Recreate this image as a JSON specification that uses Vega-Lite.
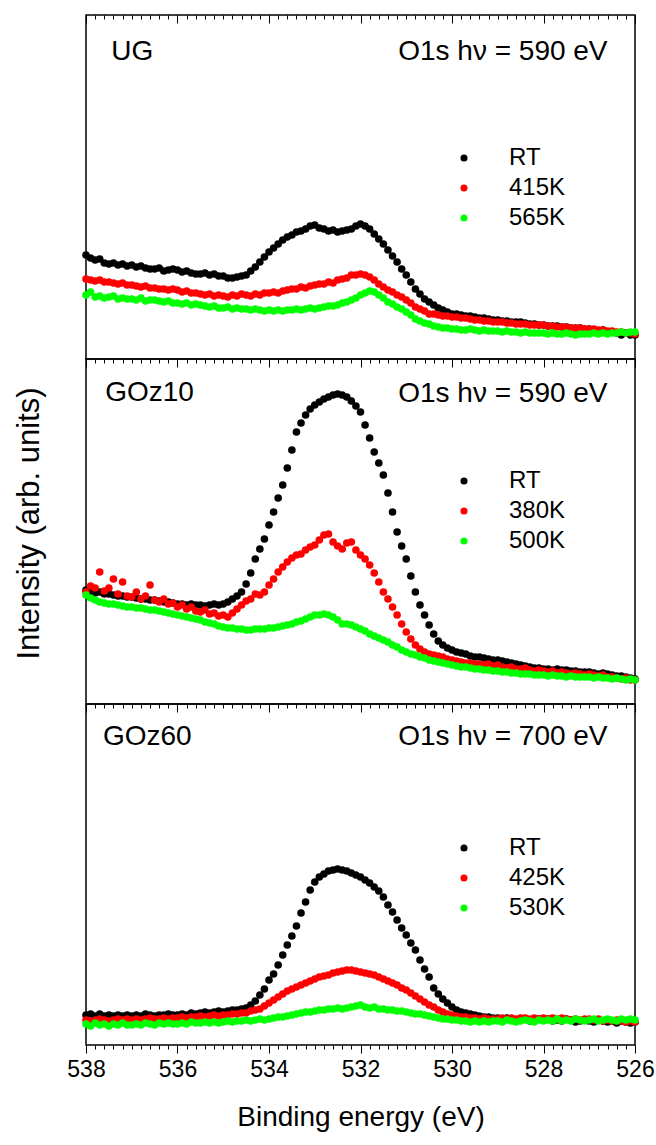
{
"$schema":"https://vega.github.io/schema/vega-lite/v6.json",
"background":"white",
"padding":{"left":12,"top":13,"right":4,"bottom":4},
"spacing":0,
"bounds":"flush",
"datasets":{
"ug":[
{"s":"RT","e":538,"v":104},{"s":"RT","e":537.9,"v":101},{"s":"RT","e":537.8,"v":99},{"s":"RT","e":537.7,"v":100},{"s":"RT","e":537.6,"v":96},{"s":"RT","e":537.5,"v":95},{"s":"RT","e":537.4,"v":96},{"s":"RT","e":537.3,"v":94},{"s":"RT","e":537.2,"v":95},{"s":"RT","e":537.1,"v":93},
{"s":"RT","e":537,"v":94},{"s":"RT","e":536.9,"v":92},{"s":"RT","e":536.8,"v":93},{"s":"RT","e":536.7,"v":91},{"s":"RT","e":536.6,"v":90},{"s":"RT","e":536.5,"v":90},{"s":"RT","e":536.4,"v":91},{"s":"RT","e":536.3,"v":88},{"s":"RT","e":536.2,"v":89},{"s":"RT","e":536.1,"v":90},
{"s":"RT","e":536,"v":89},{"s":"RT","e":535.9,"v":87},{"s":"RT","e":535.8,"v":88},{"s":"RT","e":535.7,"v":86},{"s":"RT","e":535.6,"v":85},{"s":"RT","e":535.5,"v":85},{"s":"RT","e":535.4,"v":86},{"s":"RT","e":535.3,"v":84},{"s":"RT","e":535.2,"v":85},{"s":"RT","e":535.1,"v":83},
{"s":"RT","e":535,"v":83},{"s":"RT","e":534.9,"v":81},{"s":"RT","e":534.8,"v":81},{"s":"RT","e":534.7,"v":82},{"s":"RT","e":534.6,"v":83},{"s":"RT","e":534.5,"v":84},{"s":"RT","e":534.4,"v":88},{"s":"RT","e":534.3,"v":92},{"s":"RT","e":534.2,"v":97},{"s":"RT","e":534.1,"v":102},
{"s":"RT","e":534,"v":107},{"s":"RT","e":533.9,"v":111},{"s":"RT","e":533.8,"v":115},{"s":"RT","e":533.7,"v":119},{"s":"RT","e":533.6,"v":122},{"s":"RT","e":533.5,"v":124},{"s":"RT","e":533.4,"v":127},{"s":"RT","e":533.3,"v":128},{"s":"RT","e":533.2,"v":130},{"s":"RT","e":533.1,"v":133},
{"s":"RT","e":533,"v":134},{"s":"RT","e":532.9,"v":131},{"s":"RT","e":532.8,"v":130},{"s":"RT","e":532.7,"v":128},{"s":"RT","e":532.6,"v":129},{"s":"RT","e":532.5,"v":127},{"s":"RT","e":532.4,"v":128},{"s":"RT","e":532.3,"v":129},{"s":"RT","e":532.2,"v":130},{"s":"RT","e":532.1,"v":133},
{"s":"RT","e":532,"v":135},{"s":"RT","e":531.9,"v":133},{"s":"RT","e":531.8,"v":130},{"s":"RT","e":531.7,"v":125},{"s":"RT","e":531.6,"v":120},{"s":"RT","e":531.5,"v":115},{"s":"RT","e":531.4,"v":109},{"s":"RT","e":531.3,"v":103},{"s":"RT","e":531.2,"v":97},{"s":"RT","e":531.1,"v":90},
{"s":"RT","e":531,"v":84},{"s":"RT","e":530.9,"v":77},{"s":"RT","e":530.8,"v":70},{"s":"RT","e":530.7,"v":65},{"s":"RT","e":530.6,"v":60},{"s":"RT","e":530.5,"v":57},{"s":"RT","e":530.4,"v":54},{"s":"RT","e":530.3,"v":51},{"s":"RT","e":530.2,"v":49},{"s":"RT","e":530.1,"v":47},
{"s":"RT","e":530,"v":45},{"s":"RT","e":529.9,"v":45},{"s":"RT","e":529.8,"v":44},{"s":"RT","e":529.7,"v":43},{"s":"RT","e":529.6,"v":43},{"s":"RT","e":529.5,"v":42},{"s":"RT","e":529.4,"v":41},{"s":"RT","e":529.3,"v":41},{"s":"RT","e":529.2,"v":40},{"s":"RT","e":529.1,"v":39},
{"s":"RT","e":529,"v":39},{"s":"RT","e":528.9,"v":38},{"s":"RT","e":528.8,"v":38},{"s":"RT","e":528.7,"v":37},{"s":"RT","e":528.6,"v":37},{"s":"RT","e":528.5,"v":37},{"s":"RT","e":528.4,"v":36},{"s":"RT","e":528.3,"v":35},{"s":"RT","e":528.2,"v":35},{"s":"RT","e":528.1,"v":34},
{"s":"RT","e":528,"v":34},{"s":"RT","e":527.9,"v":33},{"s":"RT","e":527.8,"v":33},{"s":"RT","e":527.7,"v":33},{"s":"RT","e":527.6,"v":32},{"s":"RT","e":527.5,"v":32},{"s":"RT","e":527.4,"v":31},{"s":"RT","e":527.3,"v":31},{"s":"RT","e":527.2,"v":31},{"s":"RT","e":527.1,"v":30},
{"s":"RT","e":527,"v":30},{"s":"RT","e":526.9,"v":29},{"s":"RT","e":526.8,"v":28},{"s":"RT","e":526.7,"v":29},{"s":"RT","e":526.6,"v":27},{"s":"RT","e":526.5,"v":27},{"s":"RT","e":526.4,"v":26},{"s":"RT","e":526.3,"v":24},{"s":"RT","e":526.2,"v":26},{"s":"RT","e":526.1,"v":24},
{"s":"RT","e":526,"v":24},
{"s":"415K","e":538,"v":80},{"s":"415K","e":537.9,"v":79},{"s":"415K","e":537.8,"v":78},{"s":"415K","e":537.7,"v":79},{"s":"415K","e":537.6,"v":77},{"s":"415K","e":537.5,"v":77},{"s":"415K","e":537.4,"v":76},{"s":"415K","e":537.3,"v":75},{"s":"415K","e":537.2,"v":76},{"s":"415K","e":537.1,"v":74},
{"s":"415K","e":537,"v":74},{"s":"415K","e":536.9,"v":73},{"s":"415K","e":536.8,"v":72},{"s":"415K","e":536.7,"v":73},{"s":"415K","e":536.6,"v":71},{"s":"415K","e":536.5,"v":71},{"s":"415K","e":536.4,"v":70},{"s":"415K","e":536.3,"v":70},{"s":"415K","e":536.2,"v":69},{"s":"415K","e":536.1,"v":70},
{"s":"415K","e":536,"v":69},{"s":"415K","e":535.9,"v":67},{"s":"415K","e":535.8,"v":68},{"s":"415K","e":535.7,"v":66},{"s":"415K","e":535.6,"v":66},{"s":"415K","e":535.5,"v":65},{"s":"415K","e":535.4,"v":64},{"s":"415K","e":535.3,"v":65},{"s":"415K","e":535.2,"v":63},{"s":"415K","e":535.1,"v":64},
{"s":"415K","e":535,"v":63},{"s":"415K","e":534.9,"v":62},{"s":"415K","e":534.8,"v":64},{"s":"415K","e":534.7,"v":63},{"s":"415K","e":534.6,"v":65},{"s":"415K","e":534.5,"v":64},{"s":"415K","e":534.4,"v":63},{"s":"415K","e":534.3,"v":65},{"s":"415K","e":534.2,"v":64},{"s":"415K","e":534.1,"v":66},
{"s":"415K","e":534,"v":66},{"s":"415K","e":533.9,"v":67},{"s":"415K","e":533.8,"v":66},{"s":"415K","e":533.7,"v":68},{"s":"415K","e":533.6,"v":69},{"s":"415K","e":533.5,"v":70},{"s":"415K","e":533.4,"v":70},{"s":"415K","e":533.3,"v":72},{"s":"415K","e":533.2,"v":71},{"s":"415K","e":533.1,"v":73},
{"s":"415K","e":533,"v":74},{"s":"415K","e":532.9,"v":75},{"s":"415K","e":532.8,"v":75},{"s":"415K","e":532.7,"v":77},{"s":"415K","e":532.6,"v":76},{"s":"415K","e":532.5,"v":79},{"s":"415K","e":532.4,"v":80},{"s":"415K","e":532.3,"v":81},{"s":"415K","e":532.2,"v":84},{"s":"415K","e":532.1,"v":84},
{"s":"415K","e":532,"v":85},{"s":"415K","e":531.9,"v":84},{"s":"415K","e":531.8,"v":82},{"s":"415K","e":531.7,"v":79},{"s":"415K","e":531.6,"v":75},{"s":"415K","e":531.5,"v":72},{"s":"415K","e":531.4,"v":69},{"s":"415K","e":531.3,"v":67},{"s":"415K","e":531.2,"v":64},{"s":"415K","e":531.1,"v":62},
{"s":"415K","e":531,"v":59},{"s":"415K","e":530.9,"v":56},{"s":"415K","e":530.8,"v":52},{"s":"415K","e":530.7,"v":50},{"s":"415K","e":530.6,"v":48},{"s":"415K","e":530.5,"v":45},{"s":"415K","e":530.4,"v":45},{"s":"415K","e":530.3,"v":44},{"s":"415K","e":530.2,"v":43},{"s":"415K","e":530.1,"v":43},
{"s":"415K","e":530,"v":42},{"s":"415K","e":529.9,"v":42},{"s":"415K","e":529.8,"v":41},{"s":"415K","e":529.7,"v":41},{"s":"415K","e":529.6,"v":40},{"s":"415K","e":529.5,"v":39},{"s":"415K","e":529.4,"v":39},{"s":"415K","e":529.3,"v":38},{"s":"415K","e":529.2,"v":38},{"s":"415K","e":529.1,"v":37},
{"s":"415K","e":529,"v":37},{"s":"415K","e":528.9,"v":37},{"s":"415K","e":528.8,"v":36},{"s":"415K","e":528.7,"v":36},{"s":"415K","e":528.6,"v":35},{"s":"415K","e":528.5,"v":35},{"s":"415K","e":528.4,"v":35},{"s":"415K","e":528.3,"v":34},{"s":"415K","e":528.2,"v":34},{"s":"415K","e":528.1,"v":34},
{"s":"415K","e":528,"v":34},{"s":"415K","e":527.9,"v":33},{"s":"415K","e":527.8,"v":33},{"s":"415K","e":527.7,"v":32},{"s":"415K","e":527.6,"v":32},{"s":"415K","e":527.5,"v":32},{"s":"415K","e":527.4,"v":31},{"s":"415K","e":527.3,"v":31},{"s":"415K","e":527.2,"v":31},{"s":"415K","e":527.1,"v":30},
{"s":"415K","e":527,"v":30},{"s":"415K","e":526.9,"v":30},{"s":"415K","e":526.8,"v":29},{"s":"415K","e":526.7,"v":29},{"s":"415K","e":526.6,"v":28},{"s":"415K","e":526.5,"v":28},{"s":"415K","e":526.4,"v":27},{"s":"415K","e":526.3,"v":27},{"s":"415K","e":526.2,"v":26},{"s":"415K","e":526.1,"v":26},
{"s":"415K","e":526,"v":25},
{"s":"565K","e":538,"v":64},{"s":"565K","e":537.9,"v":67},{"s":"565K","e":537.8,"v":62},{"s":"565K","e":537.7,"v":63},{"s":"565K","e":537.6,"v":61},{"s":"565K","e":537.5,"v":62},{"s":"565K","e":537.4,"v":63},{"s":"565K","e":537.3,"v":60},{"s":"565K","e":537.2,"v":61},{"s":"565K","e":537.1,"v":60},
{"s":"565K","e":537,"v":60},{"s":"565K","e":536.9,"v":59},{"s":"565K","e":536.8,"v":61},{"s":"565K","e":536.7,"v":58},{"s":"565K","e":536.6,"v":59},{"s":"565K","e":536.5,"v":59},{"s":"565K","e":536.4,"v":58},{"s":"565K","e":536.3,"v":57},{"s":"565K","e":536.2,"v":58},{"s":"565K","e":536.1,"v":56},
{"s":"565K","e":536,"v":56},{"s":"565K","e":535.9,"v":55},{"s":"565K","e":535.8,"v":56},{"s":"565K","e":535.7,"v":54},{"s":"565K","e":535.6,"v":55},{"s":"565K","e":535.5,"v":54},{"s":"565K","e":535.4,"v":53},{"s":"565K","e":535.3,"v":52},{"s":"565K","e":535.2,"v":53},{"s":"565K","e":535.1,"v":51},
{"s":"565K","e":535,"v":51},{"s":"565K","e":534.9,"v":52},{"s":"565K","e":534.8,"v":50},{"s":"565K","e":534.7,"v":51},{"s":"565K","e":534.6,"v":50},{"s":"565K","e":534.5,"v":50},{"s":"565K","e":534.4,"v":49},{"s":"565K","e":534.3,"v":50},{"s":"565K","e":534.2,"v":49},{"s":"565K","e":534.1,"v":48},
{"s":"565K","e":534,"v":49},{"s":"565K","e":533.9,"v":48},{"s":"565K","e":533.8,"v":49},{"s":"565K","e":533.7,"v":48},{"s":"565K","e":533.6,"v":49},{"s":"565K","e":533.5,"v":49},{"s":"565K","e":533.4,"v":50},{"s":"565K","e":533.3,"v":49},{"s":"565K","e":533.2,"v":50},{"s":"565K","e":533.1,"v":51},
{"s":"565K","e":533,"v":50},{"s":"565K","e":532.9,"v":51},{"s":"565K","e":532.8,"v":52},{"s":"565K","e":532.7,"v":53},{"s":"565K","e":532.6,"v":53},{"s":"565K","e":532.5,"v":54},{"s":"565K","e":532.4,"v":56},{"s":"565K","e":532.3,"v":57},{"s":"565K","e":532.2,"v":59},{"s":"565K","e":532.1,"v":61},
{"s":"565K","e":532,"v":64},{"s":"565K","e":531.9,"v":66},{"s":"565K","e":531.8,"v":68},{"s":"565K","e":531.7,"v":67},{"s":"565K","e":531.6,"v":64},{"s":"565K","e":531.5,"v":61},{"s":"565K","e":531.4,"v":57},{"s":"565K","e":531.3,"v":55},{"s":"565K","e":531.2,"v":52},{"s":"565K","e":531.1,"v":50},
{"s":"565K","e":531,"v":47},{"s":"565K","e":530.9,"v":44},{"s":"565K","e":530.8,"v":40},{"s":"565K","e":530.7,"v":38},{"s":"565K","e":530.6,"v":36},{"s":"565K","e":530.5,"v":35},{"s":"565K","e":530.4,"v":33},{"s":"565K","e":530.3,"v":32},{"s":"565K","e":530.2,"v":31},{"s":"565K","e":530.1,"v":31},
{"s":"565K","e":530,"v":30},{"s":"565K","e":529.9,"v":30},{"s":"565K","e":529.8,"v":29},{"s":"565K","e":529.7,"v":29},{"s":"565K","e":529.6,"v":30},{"s":"565K","e":529.5,"v":29},{"s":"565K","e":529.4,"v":28},{"s":"565K","e":529.3,"v":29},{"s":"565K","e":529.2,"v":28},{"s":"565K","e":529.1,"v":28},
{"s":"565K","e":529,"v":28},{"s":"565K","e":528.9,"v":27},{"s":"565K","e":528.8,"v":28},{"s":"565K","e":528.7,"v":27},{"s":"565K","e":528.6,"v":27},{"s":"565K","e":528.5,"v":26},{"s":"565K","e":528.4,"v":27},{"s":"565K","e":528.3,"v":26},{"s":"565K","e":528.2,"v":26},{"s":"565K","e":528.1,"v":26},
{"s":"565K","e":528,"v":26},{"s":"565K","e":527.9,"v":25},{"s":"565K","e":527.8,"v":26},{"s":"565K","e":527.7,"v":25},{"s":"565K","e":527.6,"v":25},{"s":"565K","e":527.5,"v":26},{"s":"565K","e":527.4,"v":25},{"s":"565K","e":527.3,"v":24},{"s":"565K","e":527.2,"v":25},{"s":"565K","e":527.1,"v":25},
{"s":"565K","e":527,"v":25},{"s":"565K","e":526.9,"v":26},{"s":"565K","e":526.8,"v":25},{"s":"565K","e":526.7,"v":26},{"s":"565K","e":526.6,"v":25},{"s":"565K","e":526.5,"v":26},{"s":"565K","e":526.4,"v":26},{"s":"565K","e":526.3,"v":27},{"s":"565K","e":526.2,"v":26},{"s":"565K","e":526.1,"v":27},
{"s":"565K","e":526,"v":27}
],
"goz10":[
{"s":"RT","e":538,"v":114},{"s":"RT","e":537.9,"v":112},{"s":"RT","e":537.8,"v":111},{"s":"RT","e":537.7,"v":112},{"s":"RT","e":537.6,"v":110},{"s":"RT","e":537.5,"v":110},{"s":"RT","e":537.4,"v":109},{"s":"RT","e":537.3,"v":108},{"s":"RT","e":537.2,"v":108},{"s":"RT","e":537.1,"v":107},
{"s":"RT","e":537,"v":107},{"s":"RT","e":536.9,"v":106},{"s":"RT","e":536.8,"v":105},{"s":"RT","e":536.7,"v":105},{"s":"RT","e":536.6,"v":104},{"s":"RT","e":536.5,"v":104},{"s":"RT","e":536.4,"v":103},{"s":"RT","e":536.3,"v":102},{"s":"RT","e":536.2,"v":102},{"s":"RT","e":536.1,"v":101},
{"s":"RT","e":536,"v":100},{"s":"RT","e":535.9,"v":100},{"s":"RT","e":535.8,"v":99},{"s":"RT","e":535.7,"v":100},{"s":"RT","e":535.6,"v":99},{"s":"RT","e":535.5,"v":99},{"s":"RT","e":535.4,"v":98},{"s":"RT","e":535.3,"v":99},{"s":"RT","e":535.2,"v":100},{"s":"RT","e":535.1,"v":99},
{"s":"RT","e":535,"v":100},{"s":"RT","e":534.9,"v":102},{"s":"RT","e":534.8,"v":105},{"s":"RT","e":534.7,"v":108},{"s":"RT","e":534.6,"v":112},{"s":"RT","e":534.5,"v":120},{"s":"RT","e":534.4,"v":131},{"s":"RT","e":534.3,"v":145},{"s":"RT","e":534.2,"v":155},{"s":"RT","e":534.1,"v":165},
{"s":"RT","e":534,"v":179},{"s":"RT","e":533.9,"v":192},{"s":"RT","e":533.8,"v":206},{"s":"RT","e":533.7,"v":219},{"s":"RT","e":533.6,"v":236},{"s":"RT","e":533.5,"v":254},{"s":"RT","e":533.4,"v":272},{"s":"RT","e":533.3,"v":281},{"s":"RT","e":533.2,"v":289},{"s":"RT","e":533.1,"v":295},
{"s":"RT","e":533,"v":299},{"s":"RT","e":532.9,"v":302},{"s":"RT","e":532.8,"v":305},{"s":"RT","e":532.7,"v":307},{"s":"RT","e":532.6,"v":309},{"s":"RT","e":532.5,"v":310},{"s":"RT","e":532.4,"v":309},{"s":"RT","e":532.3,"v":307},{"s":"RT","e":532.2,"v":303},{"s":"RT","e":532.1,"v":298},
{"s":"RT","e":532,"v":292},{"s":"RT","e":531.9,"v":279},{"s":"RT","e":531.8,"v":266},{"s":"RT","e":531.7,"v":252},{"s":"RT","e":531.6,"v":241},{"s":"RT","e":531.5,"v":229},{"s":"RT","e":531.4,"v":211},{"s":"RT","e":531.3,"v":192},{"s":"RT","e":531.2,"v":172},{"s":"RT","e":531.1,"v":158},
{"s":"RT","e":531,"v":145},{"s":"RT","e":530.9,"v":128},{"s":"RT","e":530.8,"v":112},{"s":"RT","e":530.7,"v":99},{"s":"RT","e":530.6,"v":89},{"s":"RT","e":530.5,"v":79},{"s":"RT","e":530.4,"v":70},{"s":"RT","e":530.3,"v":63},{"s":"RT","e":530.2,"v":59},{"s":"RT","e":530.1,"v":56},
{"s":"RT","e":530,"v":54},{"s":"RT","e":529.9,"v":52},{"s":"RT","e":529.8,"v":51},{"s":"RT","e":529.7,"v":50},{"s":"RT","e":529.6,"v":48},{"s":"RT","e":529.5,"v":47},{"s":"RT","e":529.4,"v":47},{"s":"RT","e":529.3,"v":46},{"s":"RT","e":529.2,"v":45},{"s":"RT","e":529.1,"v":44},
{"s":"RT","e":529,"v":44},{"s":"RT","e":528.9,"v":43},{"s":"RT","e":528.8,"v":42},{"s":"RT","e":528.7,"v":41},{"s":"RT","e":528.6,"v":40},{"s":"RT","e":528.5,"v":39},{"s":"RT","e":528.4,"v":38},{"s":"RT","e":528.3,"v":37},{"s":"RT","e":528.2,"v":36},{"s":"RT","e":528.1,"v":36},
{"s":"RT","e":528,"v":35},{"s":"RT","e":527.9,"v":35},{"s":"RT","e":527.8,"v":34},{"s":"RT","e":527.7,"v":35},{"s":"RT","e":527.6,"v":34},{"s":"RT","e":527.5,"v":34},{"s":"RT","e":527.4,"v":33},{"s":"RT","e":527.3,"v":33},{"s":"RT","e":527.2,"v":32},{"s":"RT","e":527.1,"v":32},
{"s":"RT","e":527,"v":32},{"s":"RT","e":526.9,"v":31},{"s":"RT","e":526.8,"v":30},{"s":"RT","e":526.7,"v":31},{"s":"RT","e":526.6,"v":30},{"s":"RT","e":526.5,"v":29},{"s":"RT","e":526.4,"v":28},{"s":"RT","e":526.3,"v":28},{"s":"RT","e":526.2,"v":27},{"s":"RT","e":526.1,"v":26},
{"s":"RT","e":526,"v":25},
{"s":"380K","e":538,"v":112},{"s":"380K","e":537.9,"v":118},{"s":"380K","e":537.8,"v":116},{"s":"380K","e":537.7,"v":132},{"s":"380K","e":537.6,"v":113},{"s":"380K","e":537.5,"v":116},{"s":"380K","e":537.4,"v":125},{"s":"380K","e":537.3,"v":110},{"s":"380K","e":537.2,"v":122},{"s":"380K","e":537.1,"v":108},
{"s":"380K","e":537,"v":107},{"s":"380K","e":536.9,"v":112},{"s":"380K","e":536.8,"v":105},{"s":"380K","e":536.7,"v":108},{"s":"380K","e":536.6,"v":119},{"s":"380K","e":536.5,"v":104},{"s":"380K","e":536.4,"v":102},{"s":"380K","e":536.3,"v":105},{"s":"380K","e":536.2,"v":100},{"s":"380K","e":536.1,"v":101},
{"s":"380K","e":536,"v":97},{"s":"380K","e":535.9,"v":99},{"s":"380K","e":535.8,"v":95},{"s":"380K","e":535.7,"v":97},{"s":"380K","e":535.6,"v":93},{"s":"380K","e":535.5,"v":92},{"s":"380K","e":535.4,"v":94},{"s":"380K","e":535.3,"v":90},{"s":"380K","e":535.2,"v":91},{"s":"380K","e":535.1,"v":88},
{"s":"380K","e":535,"v":89},{"s":"380K","e":534.9,"v":87},{"s":"380K","e":534.8,"v":91},{"s":"380K","e":534.7,"v":95},{"s":"380K","e":534.6,"v":99},{"s":"380K","e":534.5,"v":103},{"s":"380K","e":534.4,"v":105},{"s":"380K","e":534.3,"v":110},{"s":"380K","e":534.2,"v":109},{"s":"380K","e":534.1,"v":112},
{"s":"380K","e":534,"v":119},{"s":"380K","e":533.9,"v":125},{"s":"380K","e":533.8,"v":132},{"s":"380K","e":533.7,"v":137},{"s":"380K","e":533.6,"v":142},{"s":"380K","e":533.5,"v":146},{"s":"380K","e":533.4,"v":149},{"s":"380K","e":533.3,"v":150},{"s":"380K","e":533.2,"v":154},{"s":"380K","e":533.1,"v":157},
{"s":"380K","e":533,"v":159},{"s":"380K","e":532.9,"v":164},{"s":"380K","e":532.8,"v":169},{"s":"380K","e":532.7,"v":170},{"s":"380K","e":532.6,"v":162},{"s":"380K","e":532.5,"v":158},{"s":"380K","e":532.4,"v":155},{"s":"380K","e":532.3,"v":161},{"s":"380K","e":532.2,"v":162},{"s":"380K","e":532.1,"v":154},
{"s":"380K","e":532,"v":149},{"s":"380K","e":531.9,"v":145},{"s":"380K","e":531.8,"v":139},{"s":"380K","e":531.7,"v":131},{"s":"380K","e":531.6,"v":122},{"s":"380K","e":531.5,"v":112},{"s":"380K","e":531.4,"v":105},{"s":"380K","e":531.3,"v":97},{"s":"380K","e":531.2,"v":89},{"s":"380K","e":531.1,"v":80},
{"s":"380K","e":531,"v":72},{"s":"380K","e":530.9,"v":65},{"s":"380K","e":530.8,"v":59},{"s":"380K","e":530.7,"v":55},{"s":"380K","e":530.6,"v":52},{"s":"380K","e":530.5,"v":50},{"s":"380K","e":530.4,"v":49},{"s":"380K","e":530.3,"v":48},{"s":"380K","e":530.2,"v":47},{"s":"380K","e":530.1,"v":45},
{"s":"380K","e":530,"v":44},{"s":"380K","e":529.9,"v":43},{"s":"380K","e":529.8,"v":42},{"s":"380K","e":529.7,"v":41},{"s":"380K","e":529.6,"v":41},{"s":"380K","e":529.5,"v":40},{"s":"380K","e":529.4,"v":40},{"s":"380K","e":529.3,"v":39},{"s":"380K","e":529.2,"v":40},{"s":"380K","e":529.1,"v":38},
{"s":"380K","e":529,"v":39},{"s":"380K","e":528.9,"v":37},{"s":"380K","e":528.8,"v":36},{"s":"380K","e":528.7,"v":37},{"s":"380K","e":528.6,"v":35},{"s":"380K","e":528.5,"v":35},{"s":"380K","e":528.4,"v":36},{"s":"380K","e":528.3,"v":34},{"s":"380K","e":528.2,"v":33},{"s":"380K","e":528.1,"v":34},
{"s":"380K","e":528,"v":33},{"s":"380K","e":527.9,"v":32},{"s":"380K","e":527.8,"v":33},{"s":"380K","e":527.7,"v":31},{"s":"380K","e":527.6,"v":32},{"s":"380K","e":527.5,"v":31},{"s":"380K","e":527.4,"v":30},{"s":"380K","e":527.3,"v":31},{"s":"380K","e":527.2,"v":30},{"s":"380K","e":527.1,"v":29},
{"s":"380K","e":527,"v":30},{"s":"380K","e":526.9,"v":29},{"s":"380K","e":526.8,"v":28},{"s":"380K","e":526.7,"v":29},{"s":"380K","e":526.6,"v":27},{"s":"380K","e":526.5,"v":27},{"s":"380K","e":526.4,"v":26},{"s":"380K","e":526.3,"v":25},{"s":"380K","e":526.2,"v":26},{"s":"380K","e":526.1,"v":24},
{"s":"380K","e":526,"v":24},
{"s":"500K","e":538,"v":109},{"s":"500K","e":537.9,"v":106},{"s":"500K","e":537.8,"v":104},{"s":"500K","e":537.7,"v":102},{"s":"500K","e":537.6,"v":101},{"s":"500K","e":537.5,"v":100},{"s":"500K","e":537.4,"v":100},{"s":"500K","e":537.3,"v":99},{"s":"500K","e":537.2,"v":98},{"s":"500K","e":537.1,"v":97},
{"s":"500K","e":537,"v":97},{"s":"500K","e":536.9,"v":96},{"s":"500K","e":536.8,"v":96},{"s":"500K","e":536.7,"v":95},{"s":"500K","e":536.6,"v":94},{"s":"500K","e":536.5,"v":94},{"s":"500K","e":536.4,"v":93},{"s":"500K","e":536.3,"v":92},{"s":"500K","e":536.2,"v":91},{"s":"500K","e":536.1,"v":90},
{"s":"500K","e":536,"v":89},{"s":"500K","e":535.9,"v":88},{"s":"500K","e":535.8,"v":87},{"s":"500K","e":535.7,"v":86},{"s":"500K","e":535.6,"v":85},{"s":"500K","e":535.5,"v":84},{"s":"500K","e":535.4,"v":82},{"s":"500K","e":535.3,"v":81},{"s":"500K","e":535.2,"v":80},{"s":"500K","e":535.1,"v":78},
{"s":"500K","e":535,"v":77},{"s":"500K","e":534.9,"v":76},{"s":"500K","e":534.8,"v":76},{"s":"500K","e":534.7,"v":75},{"s":"500K","e":534.6,"v":75},{"s":"500K","e":534.5,"v":74},{"s":"500K","e":534.4,"v":74},{"s":"500K","e":534.3,"v":75},{"s":"500K","e":534.2,"v":75},{"s":"500K","e":534.1,"v":75},
{"s":"500K","e":534,"v":76},{"s":"500K","e":533.9,"v":76},{"s":"500K","e":533.8,"v":77},{"s":"500K","e":533.7,"v":78},{"s":"500K","e":533.6,"v":79},{"s":"500K","e":533.5,"v":80},{"s":"500K","e":533.4,"v":82},{"s":"500K","e":533.3,"v":83},{"s":"500K","e":533.2,"v":85},{"s":"500K","e":533.1,"v":87},
{"s":"500K","e":533,"v":89},{"s":"500K","e":532.9,"v":89},{"s":"500K","e":532.8,"v":90},{"s":"500K","e":532.7,"v":89},{"s":"500K","e":532.6,"v":87},{"s":"500K","e":532.5,"v":84},{"s":"500K","e":532.4,"v":80},{"s":"500K","e":532.3,"v":80},{"s":"500K","e":532.2,"v":79},{"s":"500K","e":532.1,"v":77},
{"s":"500K","e":532,"v":75},{"s":"500K","e":531.9,"v":73},{"s":"500K","e":531.8,"v":70},{"s":"500K","e":531.7,"v":68},{"s":"500K","e":531.6,"v":66},{"s":"500K","e":531.5,"v":64},{"s":"500K","e":531.4,"v":62},{"s":"500K","e":531.3,"v":59},{"s":"500K","e":531.2,"v":57},{"s":"500K","e":531.1,"v":54},
{"s":"500K","e":531,"v":52},{"s":"500K","e":530.9,"v":50},{"s":"500K","e":530.8,"v":49},{"s":"500K","e":530.7,"v":47},{"s":"500K","e":530.6,"v":46},{"s":"500K","e":530.5,"v":44},{"s":"500K","e":530.4,"v":43},{"s":"500K","e":530.3,"v":42},{"s":"500K","e":530.2,"v":41},{"s":"500K","e":530.1,"v":40},
{"s":"500K","e":530,"v":39},{"s":"500K","e":529.9,"v":38},{"s":"500K","e":529.8,"v":37},{"s":"500K","e":529.7,"v":37},{"s":"500K","e":529.6,"v":36},{"s":"500K","e":529.5,"v":35},{"s":"500K","e":529.4,"v":35},{"s":"500K","e":529.3,"v":34},{"s":"500K","e":529.2,"v":34},{"s":"500K","e":529.1,"v":33},
{"s":"500K","e":529,"v":33},{"s":"500K","e":528.9,"v":32},{"s":"500K","e":528.8,"v":32},{"s":"500K","e":528.7,"v":31},{"s":"500K","e":528.6,"v":31},{"s":"500K","e":528.5,"v":30},{"s":"500K","e":528.4,"v":30},{"s":"500K","e":528.3,"v":30},{"s":"500K","e":528.2,"v":29},{"s":"500K","e":528.1,"v":29},
{"s":"500K","e":528,"v":29},{"s":"500K","e":527.9,"v":28},{"s":"500K","e":527.8,"v":29},{"s":"500K","e":527.7,"v":28},{"s":"500K","e":527.6,"v":28},{"s":"500K","e":527.5,"v":27},{"s":"500K","e":527.4,"v":28},{"s":"500K","e":527.3,"v":27},{"s":"500K","e":527.2,"v":27},{"s":"500K","e":527.1,"v":27},
{"s":"500K","e":527,"v":27},{"s":"500K","e":526.9,"v":26},{"s":"500K","e":526.8,"v":27},{"s":"500K","e":526.7,"v":26},{"s":"500K","e":526.6,"v":26},{"s":"500K","e":526.5,"v":25},{"s":"500K","e":526.4,"v":26},{"s":"500K","e":526.3,"v":25},{"s":"500K","e":526.2,"v":24},{"s":"500K","e":526.1,"v":25},
{"s":"500K","e":526,"v":24}
],
"goz60":[
{"s":"RT","e":538,"v":30},{"s":"RT","e":537.9,"v":31},{"s":"RT","e":537.8,"v":29},{"s":"RT","e":537.7,"v":31},{"s":"RT","e":537.6,"v":29},{"s":"RT","e":537.5,"v":30},{"s":"RT","e":537.4,"v":29},{"s":"RT","e":537.3,"v":30},{"s":"RT","e":537.2,"v":29},{"s":"RT","e":537.1,"v":30},
{"s":"RT","e":537,"v":29},{"s":"RT","e":536.9,"v":30},{"s":"RT","e":536.8,"v":29},{"s":"RT","e":536.7,"v":31},{"s":"RT","e":536.6,"v":30},{"s":"RT","e":536.5,"v":29},{"s":"RT","e":536.4,"v":30},{"s":"RT","e":536.3,"v":30},{"s":"RT","e":536.2,"v":31},{"s":"RT","e":536.1,"v":30},
{"s":"RT","e":536,"v":30},{"s":"RT","e":535.9,"v":31},{"s":"RT","e":535.8,"v":30},{"s":"RT","e":535.7,"v":32},{"s":"RT","e":535.6,"v":31},{"s":"RT","e":535.5,"v":32},{"s":"RT","e":535.4,"v":33},{"s":"RT","e":535.3,"v":32},{"s":"RT","e":535.2,"v":33},{"s":"RT","e":535.1,"v":34},
{"s":"RT","e":535,"v":33},{"s":"RT","e":534.9,"v":34},{"s":"RT","e":534.8,"v":35},{"s":"RT","e":534.7,"v":35},{"s":"RT","e":534.6,"v":36},{"s":"RT","e":534.5,"v":37},{"s":"RT","e":534.4,"v":40},{"s":"RT","e":534.3,"v":44},{"s":"RT","e":534.2,"v":50},{"s":"RT","e":534.1,"v":56},
{"s":"RT","e":534,"v":65},{"s":"RT","e":533.9,"v":71},{"s":"RT","e":533.8,"v":80},{"s":"RT","e":533.7,"v":90},{"s":"RT","e":533.6,"v":100},{"s":"RT","e":533.5,"v":109},{"s":"RT","e":533.4,"v":119},{"s":"RT","e":533.3,"v":132},{"s":"RT","e":533.2,"v":143},{"s":"RT","e":533.1,"v":155},
{"s":"RT","e":533,"v":163},{"s":"RT","e":532.9,"v":168},{"s":"RT","e":532.8,"v":171},{"s":"RT","e":532.7,"v":174},{"s":"RT","e":532.6,"v":175},{"s":"RT","e":532.5,"v":176},{"s":"RT","e":532.4,"v":175},{"s":"RT","e":532.3,"v":174},{"s":"RT","e":532.2,"v":172},{"s":"RT","e":532.1,"v":170},
{"s":"RT","e":532,"v":168},{"s":"RT","e":531.9,"v":165},{"s":"RT","e":531.8,"v":162},{"s":"RT","e":531.7,"v":158},{"s":"RT","e":531.6,"v":154},{"s":"RT","e":531.5,"v":148},{"s":"RT","e":531.4,"v":140},{"s":"RT","e":531.3,"v":133},{"s":"RT","e":531.2,"v":125},{"s":"RT","e":531.1,"v":117},
{"s":"RT","e":531,"v":110},{"s":"RT","e":530.9,"v":102},{"s":"RT","e":530.8,"v":95},{"s":"RT","e":530.7,"v":85},{"s":"RT","e":530.6,"v":76},{"s":"RT","e":530.5,"v":68},{"s":"RT","e":530.4,"v":57},{"s":"RT","e":530.3,"v":51},{"s":"RT","e":530.2,"v":46},{"s":"RT","e":530.1,"v":42},
{"s":"RT","e":530,"v":38},{"s":"RT","e":529.9,"v":35},{"s":"RT","e":529.8,"v":33},{"s":"RT","e":529.7,"v":32},{"s":"RT","e":529.6,"v":31},{"s":"RT","e":529.5,"v":30},{"s":"RT","e":529.4,"v":29},{"s":"RT","e":529.3,"v":28},{"s":"RT","e":529.2,"v":28},{"s":"RT","e":529.1,"v":27},
{"s":"RT","e":529,"v":27},{"s":"RT","e":528.9,"v":26},{"s":"RT","e":528.8,"v":27},{"s":"RT","e":528.7,"v":26},{"s":"RT","e":528.6,"v":25},{"s":"RT","e":528.5,"v":26},{"s":"RT","e":528.4,"v":26},{"s":"RT","e":528.3,"v":24},{"s":"RT","e":528.2,"v":25},{"s":"RT","e":528.1,"v":26},
{"s":"RT","e":528,"v":25},{"s":"RT","e":527.9,"v":26},{"s":"RT","e":527.8,"v":24},{"s":"RT","e":527.7,"v":25},{"s":"RT","e":527.6,"v":24},{"s":"RT","e":527.5,"v":26},{"s":"RT","e":527.4,"v":25},{"s":"RT","e":527.3,"v":23},{"s":"RT","e":527.2,"v":24},{"s":"RT","e":527.1,"v":25},
{"s":"RT","e":527,"v":24},{"s":"RT","e":526.9,"v":23},{"s":"RT","e":526.8,"v":25},{"s":"RT","e":526.7,"v":24},{"s":"RT","e":526.6,"v":23},{"s":"RT","e":526.5,"v":24},{"s":"RT","e":526.4,"v":22},{"s":"RT","e":526.3,"v":24},{"s":"RT","e":526.2,"v":23},{"s":"RT","e":526.1,"v":22},
{"s":"RT","e":526,"v":23},
{"s":"425K","e":538,"v":25},{"s":"425K","e":537.9,"v":24},{"s":"425K","e":537.8,"v":25},{"s":"425K","e":537.7,"v":26},{"s":"425K","e":537.6,"v":25},{"s":"425K","e":537.5,"v":24},{"s":"425K","e":537.4,"v":25},{"s":"425K","e":537.3,"v":26},{"s":"425K","e":537.2,"v":25},{"s":"425K","e":537.1,"v":26},
{"s":"425K","e":537,"v":25},{"s":"425K","e":536.9,"v":26},{"s":"425K","e":536.8,"v":25},{"s":"425K","e":536.7,"v":26},{"s":"425K","e":536.6,"v":27},{"s":"425K","e":536.5,"v":26},{"s":"425K","e":536.4,"v":26},{"s":"425K","e":536.3,"v":27},{"s":"425K","e":536.2,"v":26},{"s":"425K","e":536.1,"v":27},
{"s":"425K","e":536,"v":27},{"s":"425K","e":535.9,"v":28},{"s":"425K","e":535.8,"v":27},{"s":"425K","e":535.7,"v":28},{"s":"425K","e":535.6,"v":28},{"s":"425K","e":535.5,"v":29},{"s":"425K","e":535.4,"v":28},{"s":"425K","e":535.3,"v":29},{"s":"425K","e":535.2,"v":30},{"s":"425K","e":535.1,"v":29},
{"s":"425K","e":535,"v":30},{"s":"425K","e":534.9,"v":30},{"s":"425K","e":534.8,"v":31},{"s":"425K","e":534.7,"v":31},{"s":"425K","e":534.6,"v":32},{"s":"425K","e":534.5,"v":32},{"s":"425K","e":534.4,"v":34},{"s":"425K","e":534.3,"v":35},{"s":"425K","e":534.2,"v":36},{"s":"425K","e":534.1,"v":39},
{"s":"425K","e":534,"v":42},{"s":"425K","e":533.9,"v":45},{"s":"425K","e":533.8,"v":48},{"s":"425K","e":533.7,"v":51},{"s":"425K","e":533.6,"v":54},{"s":"425K","e":533.5,"v":56},{"s":"425K","e":533.4,"v":58},{"s":"425K","e":533.3,"v":60},{"s":"425K","e":533.2,"v":62},{"s":"425K","e":533.1,"v":64},
{"s":"425K","e":533,"v":66},{"s":"425K","e":532.9,"v":68},{"s":"425K","e":532.8,"v":69},{"s":"425K","e":532.7,"v":70},{"s":"425K","e":532.6,"v":72},{"s":"425K","e":532.5,"v":73},{"s":"425K","e":532.4,"v":74},{"s":"425K","e":532.3,"v":75},{"s":"425K","e":532.2,"v":75},{"s":"425K","e":532.1,"v":74},
{"s":"425K","e":532,"v":73},{"s":"425K","e":531.9,"v":72},{"s":"425K","e":531.8,"v":71},{"s":"425K","e":531.7,"v":70},{"s":"425K","e":531.6,"v":68},{"s":"425K","e":531.5,"v":66},{"s":"425K","e":531.4,"v":64},{"s":"425K","e":531.3,"v":62},{"s":"425K","e":531.2,"v":60},{"s":"425K","e":531.1,"v":57},
{"s":"425K","e":531,"v":55},{"s":"425K","e":530.9,"v":52},{"s":"425K","e":530.8,"v":49},{"s":"425K","e":530.7,"v":46},{"s":"425K","e":530.6,"v":43},{"s":"425K","e":530.5,"v":40},{"s":"425K","e":530.4,"v":38},{"s":"425K","e":530.3,"v":35},{"s":"425K","e":530.2,"v":33},{"s":"425K","e":530.1,"v":31},
{"s":"425K","e":530,"v":30},{"s":"425K","e":529.9,"v":29},{"s":"425K","e":529.8,"v":28},{"s":"425K","e":529.7,"v":28},{"s":"425K","e":529.6,"v":27},{"s":"425K","e":529.5,"v":27},{"s":"425K","e":529.4,"v":26},{"s":"425K","e":529.3,"v":27},{"s":"425K","e":529.2,"v":26},{"s":"425K","e":529.1,"v":26},
{"s":"425K","e":529,"v":26},{"s":"425K","e":528.9,"v":27},{"s":"425K","e":528.8,"v":26},{"s":"425K","e":528.7,"v":27},{"s":"425K","e":528.6,"v":26},{"s":"425K","e":528.5,"v":27},{"s":"425K","e":528.4,"v":27},{"s":"425K","e":528.3,"v":26},{"s":"425K","e":528.2,"v":27},{"s":"425K","e":528.1,"v":26},
{"s":"425K","e":528,"v":27},{"s":"425K","e":527.9,"v":26},{"s":"425K","e":527.8,"v":27},{"s":"425K","e":527.7,"v":26},{"s":"425K","e":527.6,"v":27},{"s":"425K","e":527.5,"v":26},{"s":"425K","e":527.4,"v":25},{"s":"425K","e":527.3,"v":26},{"s":"425K","e":527.2,"v":25},{"s":"425K","e":527.1,"v":26},
{"s":"425K","e":527,"v":26},{"s":"425K","e":526.9,"v":25},{"s":"425K","e":526.8,"v":26},{"s":"425K","e":526.7,"v":24},{"s":"425K","e":526.6,"v":25},{"s":"425K","e":526.5,"v":24},{"s":"425K","e":526.4,"v":25},{"s":"425K","e":526.3,"v":24},{"s":"425K","e":526.2,"v":23},{"s":"425K","e":526.1,"v":24},
{"s":"425K","e":526,"v":23},
{"s":"530K","e":538,"v":21},{"s":"530K","e":537.9,"v":19},{"s":"530K","e":537.8,"v":22},{"s":"530K","e":537.7,"v":20},{"s":"530K","e":537.6,"v":21},{"s":"530K","e":537.5,"v":19},{"s":"530K","e":537.4,"v":21},{"s":"530K","e":537.3,"v":20},{"s":"530K","e":537.2,"v":22},{"s":"530K","e":537.1,"v":20},
{"s":"530K","e":537,"v":20},{"s":"530K","e":536.9,"v":21},{"s":"530K","e":536.8,"v":20},{"s":"530K","e":536.7,"v":22},{"s":"530K","e":536.6,"v":21},{"s":"530K","e":536.5,"v":20},{"s":"530K","e":536.4,"v":22},{"s":"530K","e":536.3,"v":21},{"s":"530K","e":536.2,"v":22},{"s":"530K","e":536.1,"v":21},
{"s":"530K","e":536,"v":21},{"s":"530K","e":535.9,"v":22},{"s":"530K","e":535.8,"v":21},{"s":"530K","e":535.7,"v":23},{"s":"530K","e":535.6,"v":22},{"s":"530K","e":535.5,"v":22},{"s":"530K","e":535.4,"v":23},{"s":"530K","e":535.3,"v":22},{"s":"530K","e":535.2,"v":23},{"s":"530K","e":535.1,"v":22},
{"s":"530K","e":535,"v":23},{"s":"530K","e":534.9,"v":24},{"s":"530K","e":534.8,"v":23},{"s":"530K","e":534.7,"v":24},{"s":"530K","e":534.6,"v":24},{"s":"530K","e":534.5,"v":25},{"s":"530K","e":534.4,"v":24},{"s":"530K","e":534.3,"v":25},{"s":"530K","e":534.2,"v":26},{"s":"530K","e":534.1,"v":25},
{"s":"530K","e":534,"v":26},{"s":"530K","e":533.9,"v":27},{"s":"530K","e":533.8,"v":28},{"s":"530K","e":533.7,"v":28},{"s":"530K","e":533.6,"v":29},{"s":"530K","e":533.5,"v":30},{"s":"530K","e":533.4,"v":31},{"s":"530K","e":533.3,"v":32},{"s":"530K","e":533.2,"v":33},{"s":"530K","e":533.1,"v":33},
{"s":"530K","e":533,"v":34},{"s":"530K","e":532.9,"v":35},{"s":"530K","e":532.8,"v":35},{"s":"530K","e":532.7,"v":36},{"s":"530K","e":532.6,"v":36},{"s":"530K","e":532.5,"v":37},{"s":"530K","e":532.4,"v":36},{"s":"530K","e":532.3,"v":37},{"s":"530K","e":532.2,"v":38},{"s":"530K","e":532.1,"v":39},
{"s":"530K","e":532,"v":40},{"s":"530K","e":531.9,"v":38},{"s":"530K","e":531.8,"v":37},{"s":"530K","e":531.7,"v":38},{"s":"530K","e":531.6,"v":36},{"s":"530K","e":531.5,"v":36},{"s":"530K","e":531.4,"v":35},{"s":"530K","e":531.3,"v":35},{"s":"530K","e":531.2,"v":34},{"s":"530K","e":531.1,"v":34},
{"s":"530K","e":531,"v":33},{"s":"530K","e":530.9,"v":32},{"s":"530K","e":530.8,"v":31},{"s":"530K","e":530.7,"v":31},{"s":"530K","e":530.6,"v":30},{"s":"530K","e":530.5,"v":29},{"s":"530K","e":530.4,"v":28},{"s":"530K","e":530.3,"v":27},{"s":"530K","e":530.2,"v":26},{"s":"530K","e":530.1,"v":26},
{"s":"530K","e":530,"v":25},{"s":"530K","e":529.9,"v":25},{"s":"530K","e":529.8,"v":24},{"s":"530K","e":529.7,"v":24},{"s":"530K","e":529.6,"v":23},{"s":"530K","e":529.5,"v":24},{"s":"530K","e":529.4,"v":23},{"s":"530K","e":529.3,"v":24},{"s":"530K","e":529.2,"v":23},{"s":"530K","e":529.1,"v":24},
{"s":"530K","e":529,"v":24},{"s":"530K","e":528.9,"v":23},{"s":"530K","e":528.8,"v":25},{"s":"530K","e":528.7,"v":24},{"s":"530K","e":528.6,"v":23},{"s":"530K","e":528.5,"v":24},{"s":"530K","e":528.4,"v":25},{"s":"530K","e":528.3,"v":24},{"s":"530K","e":528.2,"v":23},{"s":"530K","e":528.1,"v":25},
{"s":"530K","e":528,"v":24},{"s":"530K","e":527.9,"v":25},{"s":"530K","e":527.8,"v":24},{"s":"530K","e":527.7,"v":26},{"s":"530K","e":527.6,"v":24},{"s":"530K","e":527.5,"v":25},{"s":"530K","e":527.4,"v":24},{"s":"530K","e":527.3,"v":26},{"s":"530K","e":527.2,"v":25},{"s":"530K","e":527.1,"v":24},
{"s":"530K","e":527,"v":25},{"s":"530K","e":526.9,"v":26},{"s":"530K","e":526.8,"v":24},{"s":"530K","e":526.7,"v":25},{"s":"530K","e":526.6,"v":26},{"s":"530K","e":526.5,"v":25},{"s":"530K","e":526.4,"v":24},{"s":"530K","e":526.3,"v":26},{"s":"530K","e":526.2,"v":25},{"s":"530K","e":526.1,"v":26},
{"s":"530K","e":526,"v":25}
]
},
"vconcat":[
{
"width":549,"height":344,
"data":{"name":"ug"},
"resolve":{"axis":{"x":"independent","y":"independent"}},
"layer":[
{"transform":[{"filter":"datum.s==='RT'"}],"mark":{"type":"circle","size":58,"opacity":1},
"encoding":{"x":{"field":"e","type":"quantitative","scale":{"domain":[526,538],"reverse":true,"nice":false,"zero":false},"axis":{"orient":"top","values":[526,528,530,532,534,536,538],"tickSize":-8,"labels":false,"domain":false,"title":null}},
"y":{"field":"v","type":"quantitative","scale":{"domain":[0,344],"nice":false},"axis":null},
"color":{"field":"s","type":"nominal","scale":{"domain":["RT","415K","565K"],"range":["#000000","#ff0000","#00ff00"]},"legend":{"orient":"none","legendX":366,"legendY":131}}}},
{"transform":[{"filter":"datum.s==='415K'"}],"mark":{"type":"circle","size":58,"opacity":1},
"encoding":{"x":{"field":"e","type":"quantitative","axis":{"orient":"top","values":[526,526.2,526.4,526.6,526.8,527,527.2,527.4,527.6,527.8,528,528.2,528.4,528.6,528.8,529,529.2,529.4,529.6,529.8,530,530.2,530.4,530.6,530.8,531,531.2,531.4,531.6,531.8,532,532.2,532.4,532.6,532.8,533,533.2,533.4,533.6,533.8,534,534.2,534.4,534.6,534.8,535,535.2,535.4,535.6,535.8,536,536.2,536.4,536.6,536.8,537,537.2,537.4,537.6,537.8,538],"tickSize":-4,"labels":false,"domain":false,"title":null}},
"y":{"field":"v","type":"quantitative","axis":null},
"color":{"field":"s","type":"nominal","legend":{"orient":"none","legendX":366,"legendY":131}}}},
{"transform":[{"filter":"datum.s==='565K'"}],"mark":{"type":"circle","size":58,"opacity":1},
"encoding":{"x":{"field":"e","type":"quantitative","axis":null},
"y":{"field":"v","type":"quantitative","axis":null},
"color":{"field":"s","type":"nominal","legend":{"orient":"none","legendX":366,"legendY":131}}}},
{"data":{"values":[{"t":"UG","e":537.45,"v":299}]},"mark":{"type":"text","align":"left","baseline":"alphabetic","fontSize":28,"font":"Liberation Sans","color":"#000"},
"encoding":{"x":{"field":"e","type":"quantitative","axis":null},"y":{"field":"v","type":"quantitative","axis":null},"text":{"field":"t"}}},
{"data":{"values":[{"t":"O1s hν = 590 eV","e":526.6,"v":299}]},"mark":{"type":"text","align":"right","baseline":"alphabetic","fontSize":28,"font":"Liberation Sans","color":"#000"},
"encoding":{"x":{"field":"e","type":"quantitative","axis":null},"y":{"field":"v","type":"quantitative","axis":null},"text":{"field":"t"}}}
]
},
{
"width":549,"height":345,
"data":{"name":"goz10"},
"resolve":{"axis":{"x":"independent","y":"independent"}},
"layer":[
{"transform":[{"filter":"datum.s==='RT'"}],"mark":{"type":"circle","size":58,"opacity":1},
"encoding":{"x":{"field":"e","type":"quantitative","scale":{"domain":[526,538],"reverse":true,"nice":false,"zero":false},"axis":{"orient":"top","values":[526,528,530,532,534,536,538],"tickSize":-8,"labels":false,"domain":false,"title":null}},
"y":{"field":"v","type":"quantitative","scale":{"domain":[0,345],"nice":false},"axis":{"title":"Intensity (arb. units)","titleFontSize":31,"titlePadding":41,"titleY":164,"ticks":false,"labels":false,"domain":false,"minExtent":0,"maxExtent":0}},
"color":{"field":"s","type":"nominal","scale":{"domain":["RT","380K","500K"],"range":["#000000","#ff0000","#00ff00"]},"legend":{"orient":"none","legendX":366,"legendY":110}}}},
{"transform":[{"filter":"datum.s==='380K'"}],"mark":{"type":"circle","size":58,"opacity":1},
"encoding":{"x":{"field":"e","type":"quantitative","axis":{"orient":"top","values":[526,526.2,526.4,526.6,526.8,527,527.2,527.4,527.6,527.8,528,528.2,528.4,528.6,528.8,529,529.2,529.4,529.6,529.8,530,530.2,530.4,530.6,530.8,531,531.2,531.4,531.6,531.8,532,532.2,532.4,532.6,532.8,533,533.2,533.4,533.6,533.8,534,534.2,534.4,534.6,534.8,535,535.2,535.4,535.6,535.8,536,536.2,536.4,536.6,536.8,537,537.2,537.4,537.6,537.8,538],"tickSize":-4,"labels":false,"domain":false,"title":null}},
"y":{"field":"v","type":"quantitative","axis":null},
"color":{"field":"s","type":"nominal","legend":{"orient":"none","legendX":366,"legendY":110}}}},
{"transform":[{"filter":"datum.s==='500K'"}],"mark":{"type":"circle","size":58,"opacity":1},
"encoding":{"x":{"field":"e","type":"quantitative","axis":null},
"y":{"field":"v","type":"quantitative","axis":null},
"color":{"field":"s","type":"nominal","legend":{"orient":"none","legendX":366,"legendY":110}}}},
{"data":{"values":[{"t":"GOz10","e":537.58,"v":303}]},"mark":{"type":"text","align":"left","baseline":"alphabetic","fontSize":28,"font":"Liberation Sans","color":"#000"},
"encoding":{"x":{"field":"e","type":"quantitative","axis":null},"y":{"field":"v","type":"quantitative","axis":null},"text":{"field":"t"}}},
{"data":{"values":[{"t":"O1s hν = 590 eV","e":526.6,"v":302}]},"mark":{"type":"text","align":"right","baseline":"alphabetic","fontSize":28,"font":"Liberation Sans","color":"#000"},
"encoding":{"x":{"field":"e","type":"quantitative","axis":null},"y":{"field":"v","type":"quantitative","axis":null},"text":{"field":"t"}}}
]
},
{
"width":549,"height":341,
"data":{"name":"goz60"},
"resolve":{"axis":{"x":"independent","y":"independent"}},
"layer":[
{"transform":[{"filter":"datum.s==='RT'"}],"mark":{"type":"circle","size":58,"opacity":1},
"encoding":{"x":{"field":"e","type":"quantitative","scale":{"domain":[526,538],"reverse":true,"nice":false,"zero":false},"axis":{"orient":"top","values":[526,528,530,532,534,536,538],"tickSize":-8,"labels":false,"domain":false,"title":null}},
"y":{"field":"v","type":"quantitative","scale":{"domain":[0,341],"nice":false},"axis":null},
"color":{"field":"s","type":"nominal","scale":{"domain":["RT","425K","530K"],"range":["#000000","#ff0000","#00ff00"]},"legend":{"orient":"none","legendX":366,"legendY":132}}}},
{"transform":[{"filter":"datum.s==='425K'"}],"mark":{"type":"circle","size":58,"opacity":1},
"encoding":{"x":{"field":"e","type":"quantitative","axis":{"orient":"top","values":[526,526.2,526.4,526.6,526.8,527,527.2,527.4,527.6,527.8,528,528.2,528.4,528.6,528.8,529,529.2,529.4,529.6,529.8,530,530.2,530.4,530.6,530.8,531,531.2,531.4,531.6,531.8,532,532.2,532.4,532.6,532.8,533,533.2,533.4,533.6,533.8,534,534.2,534.4,534.6,534.8,535,535.2,535.4,535.6,535.8,536,536.2,536.4,536.6,536.8,537,537.2,537.4,537.6,537.8,538],"tickSize":-4,"labels":false,"domain":false,"title":null}},
"y":{"field":"v","type":"quantitative","axis":null},
"color":{"field":"s","type":"nominal","legend":{"orient":"none","legendX":366,"legendY":132}}}},
{"transform":[{"filter":"datum.s==='530K'"}],"mark":{"type":"circle","size":58,"opacity":1},
"encoding":{"x":{"field":"e","type":"quantitative","axis":{"orient":"bottom","values":[526,528,530,532,534,536,538],"tickSize":8,"labelFontSize":23,"labelPadding":5,"labelFlush":false,"labelOverlap":false,"domain":false,"title":"Binding energy (eV)","titleFontSize":28,"titlePadding":22}},
"y":{"field":"v","type":"quantitative","axis":null},
"color":{"field":"s","type":"nominal","legend":{"orient":"none","legendX":366,"legendY":132}}}},
{"data":{"values":[{"t":"GOz60","e":537.63,"v":300}]},"mark":{"type":"text","align":"left","baseline":"alphabetic","fontSize":28,"font":"Liberation Sans","color":"#000"},
"encoding":{"x":{"field":"e","type":"quantitative","axis":{"orient":"bottom","values":[526,526.2,526.4,526.6,526.8,527,527.2,527.4,527.6,527.8,528,528.2,528.4,528.6,528.8,529,529.2,529.4,529.6,529.8,530,530.2,530.4,530.6,530.8,531,531.2,531.4,531.6,531.8,532,532.2,532.4,532.6,532.8,533,533.2,533.4,533.6,533.8,534,534.2,534.4,534.6,534.8,535,535.2,535.4,535.6,535.8,536,536.2,536.4,536.6,536.8,537,537.2,537.4,537.6,537.8,538],"tickSize":4,"labels":false,"domain":false,"title":null}},"y":{"field":"v","type":"quantitative","axis":null},"text":{"field":"t"}}},
{"data":{"values":[{"t":"O1s hν = 700 eV","e":526.6,"v":300}]},"mark":{"type":"text","align":"right","baseline":"alphabetic","fontSize":28,"font":"Liberation Sans","color":"#000"},
"encoding":{"x":{"field":"e","type":"quantitative","axis":null},"y":{"field":"v","type":"quantitative","axis":null},"text":{"field":"t"}}}
]
}
],
"resolve":{"scale":{"color":"independent","x":"independent","y":"independent"},"legend":{"color":"independent"}},
"config":{
"view":{"stroke":"#000000","strokeWidth":1.5},
"font":"Liberation Sans",
"axis":{"grid":false,"tickColor":"#000000","tickWidth":1,"labelColor":"#000000","titleColor":"#000000","labelFont":"Liberation Sans","titleFont":"Liberation Sans","titleFontWeight":"normal","minExtent":0},
"legend":{"title":null,"padding":0,"labelFontSize":24,"labelFont":"Liberation Sans","labelColor":"#000000","labelOffset":33,"rowPadding":6,"symbolType":"circle","symbolSize":50,"symbolStrokeWidth":0,"symbolOpacity":1}
}
}
